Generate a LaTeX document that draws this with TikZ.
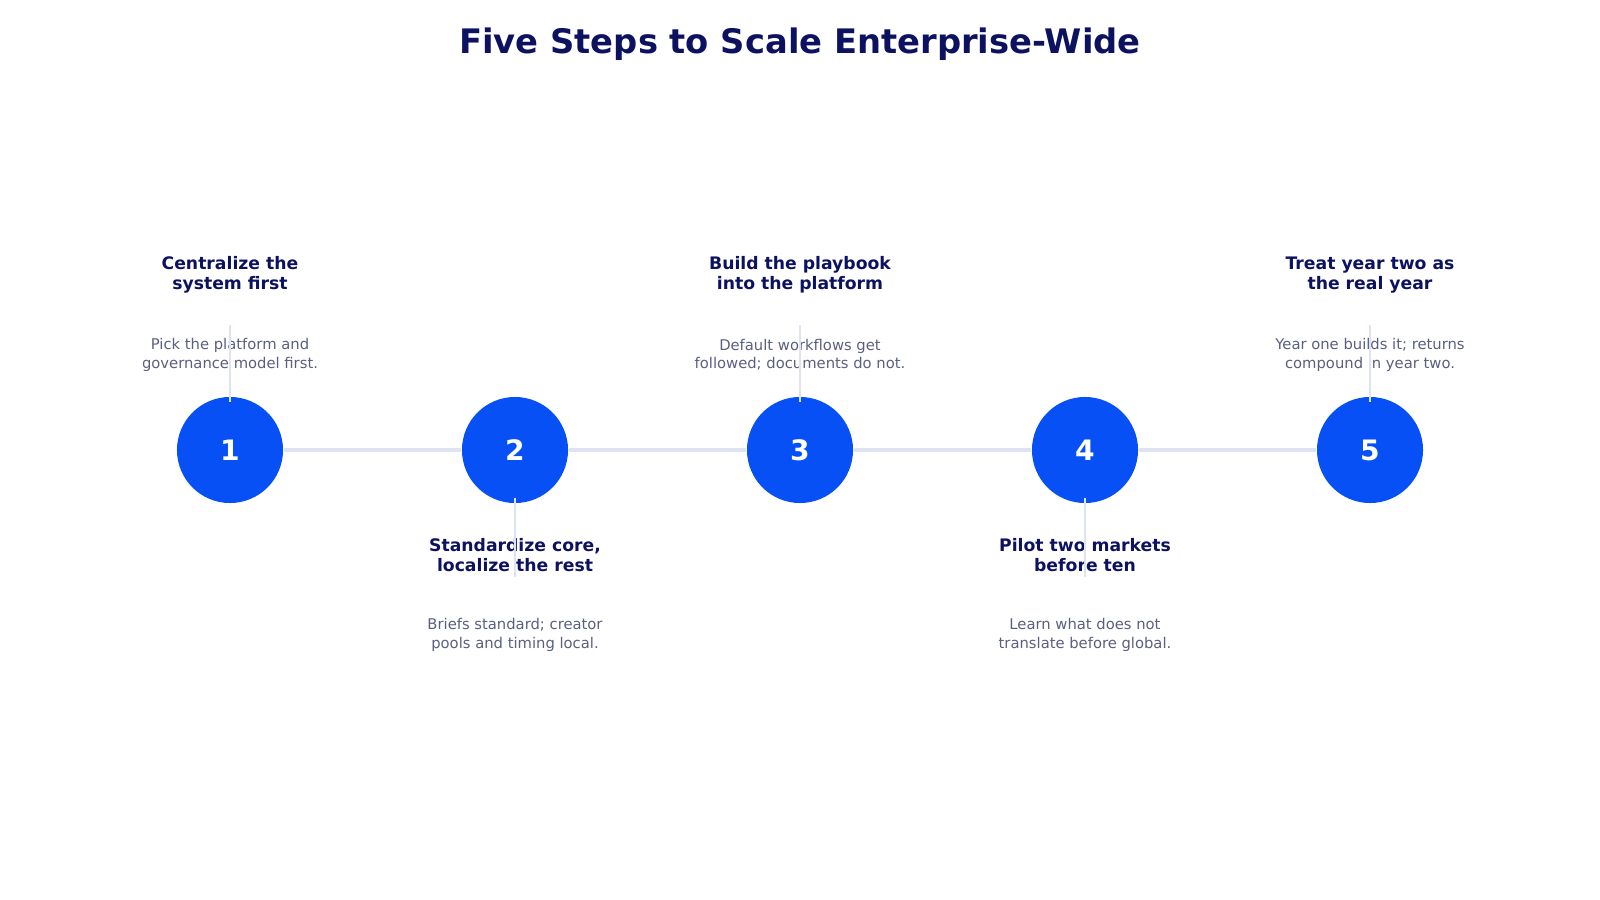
\documentclass[tikz,border=0pt]{standalone}
\usepackage{fontspec}
\setmainfont{DejaVu Sans}
\usetikzlibrary{positioning}
\definecolor{navy}{HTML}{0D1260}
\definecolor{stepblue}{HTML}{0750F5}
\definecolor{rail}{HTML}{DDE3F0}
\definecolor{muted}{HTML}{5A5F80}
\begin{document}
\begin{tikzpicture}[x=0.01cm, y=-0.01cm,
    milestone/.style={circle, fill=stepblue, minimum size=1.06cm, inner sep=0pt, text=white, font=\fontsize{8}{9}\selectfont\bfseries},
    head/.style={align=center, text=navy, font=\fontsize{4.9}{5.6}\selectfont\bfseries},
    note/.style={align=center, text=muted, font=\fontsize{4.2}{5.2}\selectfont},
    link/.style={rail, line width=1.2pt}]
  \useasboundingbox (0,0) rectangle (1600,900);
  \node[text=navy, font=\fontsize{9.6}{11}\selectfont\bfseries] (title) at (800,44) {Five Steps to Scale Enterprise-Wide};

  \node[milestone] (1) at (230,450) {1};
  \node[milestone] (2) at (515,450) {2};
  \node[milestone] (3) at (800,450) {3};
  \node[milestone] (4) at (1085,450) {4};
  \node[milestone] (5) at (1370,450) {5};

  \draw[link] (1) -- (2);
  \draw[link] (2) -- (3);
  \draw[link] (3) -- (4);
  \draw[link] (4) -- (5);

  % labels above
  \node[head] (h1) at (230,275) {Centralize the\\system first};
  \node[note] (n1) at (230,355) {Pick the platform and\\governance model first.};
  \node[head] (h3) at (800,275) {Build the playbook\\into the platform};
  \node[note] (n3) at (800,355) {Default workflows get\\followed; documents do not.};
  \node[head] (h5) at (1370,275) {Treat year two as\\the real year};
  \node[note] (n5) at (1370,355) {Year one builds it; returns\\compound in year two.};

  % labels below
  \node[head] (h2) at (515,555) {Standardize core,\\localize the rest};
  \node[note] (n2) at (515,635) {Briefs standard; creator\\pools and timing local.};
  \node[head] (h4) at (1085,555) {Pilot two markets\\before ten};
  \node[note] (n4) at (1085,635) {Learn what does not\\translate before global.};

  \coordinate (t1) at (230,325);
  \coordinate (t3) at (800,325);
  \coordinate (t5) at (1370,325);
  \coordinate (t2) at (515,577);
  \coordinate (t4) at (1085,577);
  \draw[link, line width=0.7pt] ([yshift=-1.5pt]1.north) -- (t1);
  \draw[link, line width=0.7pt] ([yshift=-1.5pt]3.north) -- (t3);
  \draw[link, line width=0.7pt] ([yshift=-1.5pt]5.north) -- (t5);
  \draw[link, line width=0.7pt] ([yshift=1.5pt]2.south) -- (t2);
  \draw[link, line width=0.7pt] ([yshift=1.5pt]4.south) -- (t4);
\end{tikzpicture}
\end{document}
